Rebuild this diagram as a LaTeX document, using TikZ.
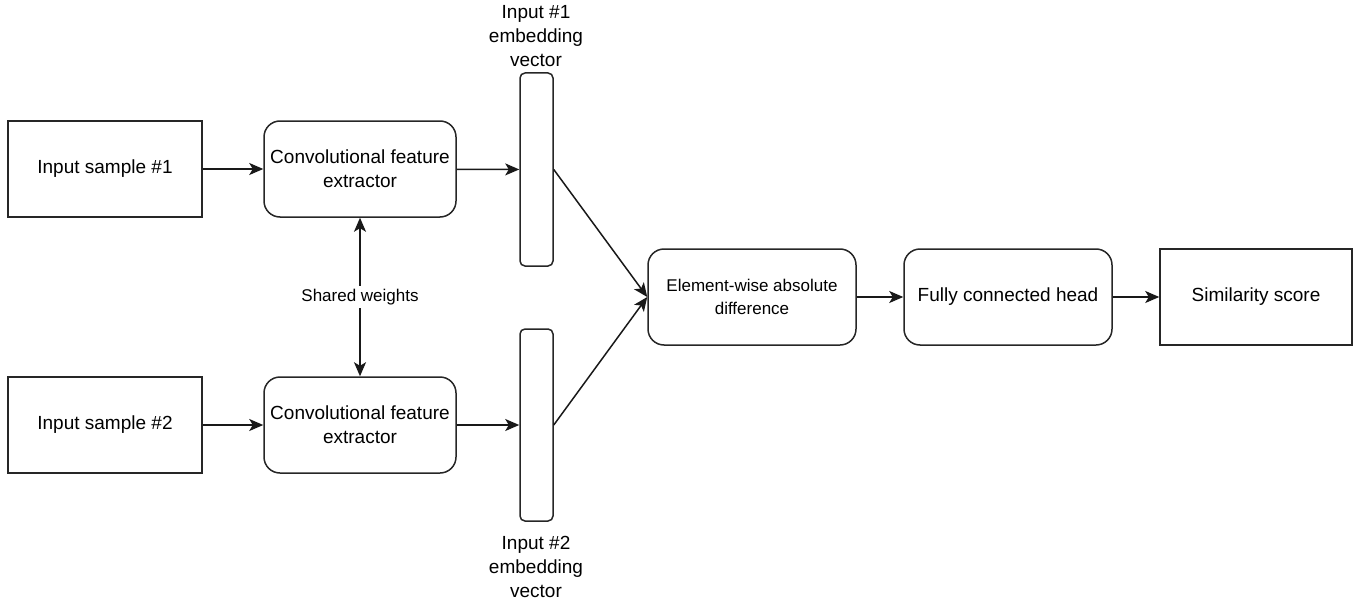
\documentclass[tikz,border=0pt]{standalone}
\usepackage{fontspec}
\setmainfont{Liberation Sans}
\usetikzlibrary{arrows.meta}
\begin{document}
\begin{tikzpicture}[x=1pt,y=-1pt,
  every node/.style={font=\fontsize{19}{24}\selectfont, align=center},
  sqbox/.style={draw=black!85, line width=1.5pt, minimum width=194pt, minimum height=96pt, inner sep=0pt},
  rbox/.style={draw=black!85, line width=1.5pt, rounded corners=16pt, minimum height=96pt, inner sep=0pt},
  vecbox/.style={draw=black!85, line width=1.5pt, rounded corners=5pt, minimum width=33pt, inner sep=0pt},
  smalltext/.style={font=\fontsize{17}{23}\selectfont},
  arr/.style={-{Stealth[length=14pt,width=12pt,inset=3.5pt]}, line width=1.5pt, draw=black!90}
]
\useasboundingbox (0,0) rectangle (1357,602);

\node[sqbox] (in1) at (105,169) {Input sample \#1};
\node[sqbox] (in2) at (105,425) {Input sample \#2};
\node[rbox, minimum width=192pt] (conv1) at (360,169) {Convolutional feature\\extractor};
\node[rbox, minimum width=192pt] (conv2) at (360,425) {Convolutional feature\\extractor};
\node[vecbox, minimum height=193pt] (vec1) at (536.5,169.5) {};
\node[vecbox, minimum height=192pt] (vec2) at (536.5,425) {};
\node (lab1) at (536,36) {Input \#1\\embedding\\vector};
\node (lab2) at (536,567) {Input \#2\\embedding\\vector};
\node[rbox, minimum width=208pt, smalltext] (ew) at (752,297) {Element-wise absolute\\difference};
\node[rbox, minimum width=208pt] (fc) at (1008,297) {Fully connected head};
\node[sqbox, minimum width=192pt] (sim) at (1256,297) {Similarity score};
\node[smalltext, inner xsep=2pt, inner ysep=3pt] (sw) at (360,297) {Shared weights};

\draw[arr] (in1) -- (conv1);
\draw[arr] (in2) -- (conv2);
\draw[arr] (conv1) -- (vec1);
\draw[arr] (conv2) -- (vec2);
\draw[arr] (vec1.east) -- (ew.west);
\draw[arr] (vec2.east) -- (ew.west);
\draw[arr] (ew) -- (fc);
\draw[arr] (fc) -- (sim);
\draw[arr] (sw) -- (conv1);
\draw[arr] (sw) -- (conv2);
\end{tikzpicture}
\end{document}
